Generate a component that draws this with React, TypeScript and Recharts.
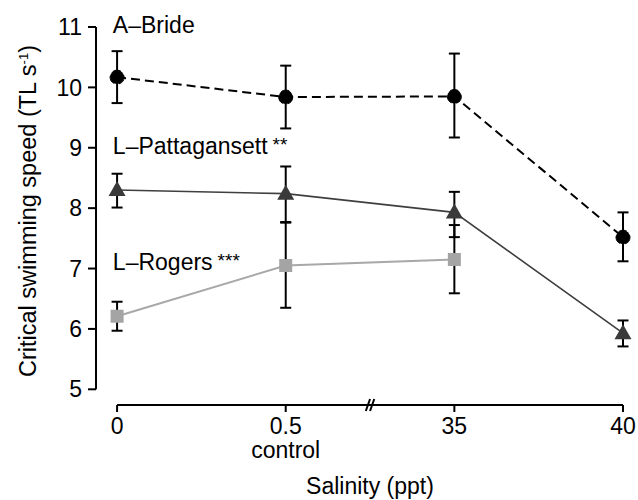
import React from 'react';
import {
  LineChart,
  Line,
  XAxis,
  YAxis,
  ErrorBar,
  ReferenceLine,
  ReferenceDot,
} from 'recharts';

// salinity groups (categorical, drawn at equal spacing with an axis break)
const tickLabels = ['0', '0.5', '35', '40'];
const tickSubLabels = ['', 'control', '', ''];

// A-Bride (mean, lower / upper error bar ends)
const bride = [10.17, 9.84, 9.85, 7.52];
const brideLow = [9.74, 9.32, 9.17, 7.12];
const brideHigh = [10.6, 10.36, 10.56, 7.93];

// L-Pattagansett
const patt = [8.3, 8.24, 7.93, 5.93];
const pattLow = [8.01, 7.77, 7.52, 5.71];
const pattHigh = [8.57, 8.69, 8.27, 6.14];

// L-Rogers (no 40 ppt group)
const rogers = [6.21, 7.05, 7.15, null];
const rogersLow = [5.97, 6.35, 6.59, null];
const rogersHigh = [6.45, 7.76, 7.72, null];

const seriesNames = ['A\u2013Bride', 'L\u2013Pattagansett', 'L\u2013Rogers'];
const seriesSig = ['', '**', '***'];
const nameAnchorY = [11.0, 9.0, 7.08];

const yTicks = [5, 6, 7, 8, 9, 10, 11];

const FONT = '"Liberation Sans", Arial, Helvetica, sans-serif';
const FS = 23;
const Y_MIN = 4.74;
const X_MIN = -0.125;

const err = (v: number | null, lo: number | null, hi: number | null) =>
  v == null || lo == null || hi == null ? undefined : [v - lo, hi - v];

const data = tickLabels.map((_, i) => ({
  idx: i,
  bride: bride[i],
  brideErr: err(bride[i], brideLow[i], brideHigh[i]),
  patt: patt[i],
  pattErr: err(patt[i], pattLow[i], pattHigh[i]),
  rogers: rogers[i],
  rogersErr: err(rogers[i], rogersLow[i], rogersHigh[i]),
}));

const XTick = ({ x, y, payload }: any) => {
  const i = payload.value as number;
  return (
    <g>
      <text x={x} y={y} dy={20} textAnchor="middle" fontSize={FS} fontFamily={FONT} fill="#000">
        {tickLabels[i]}
      </text>
      {tickSubLabels[i] && (
        <text x={x} y={y} dy={44} textAnchor="middle" fontSize={FS} fontFamily={FONT} fill="#000">
          {tickSubLabels[i]}
        </text>
      )}
    </g>
  );
};

const TriangleDot = ({ cx, cy, index }: any) => {
  if (cx == null || cy == null) return <g key={`t${index}`} />;
  return (
    <polygon
      key={`t${index}`}
      points={`${cx},${cy - 9} ${cx - 8.5},${cy + 6} ${cx + 8.5},${cy + 6}`}
      fill="#3a3a3a"
    />
  );
};

const SquareDot = ({ cx, cy, index }: any) => {
  if (cx == null || cy == null) return <g key={`s${index}`} />;
  return <rect key={`s${index}`} x={cx - 6.5} y={cy - 6.5} width={13} height={13} fill="#a4a4a4" />;
};

const nameLabel = (i: number) => (props: any) => {
  const { viewBox } = props;
  return (
    <text x={viewBox.x} y={viewBox.y} dy={6} fontSize={FS} fontFamily={FONT} fill="#000">
      {seriesNames[i]}
      {seriesSig[i] && (
        <tspan dx={5} dy={-3} fontSize={19}>
          {seriesSig[i]}
        </tspan>
      )}
    </text>
  );
};

const YTitle = () => (
  <text
    x={36}
    y={211}
    transform="rotate(-90 36 211)"
    textAnchor="middle"
    fontSize={23.5}
    fontFamily={FONT}
    fill="#000"
  >
    Critical swimming speed (TL s
    <tspan dy={-8} fontSize={13}>
      -1
    </tspan>
    <tspan dy={8}>)</tspan>
  </text>
);

const XTitle = () => (
  <text x={370} y={494} textAnchor="middle" fontSize={FS} fontFamily={FONT} fill="#000">
    Salinity (ppt)
  </text>
);

const App: React.FC = () => {
  return (
    <div style={{ position: 'absolute', left: 0, top: 0, width: 638, height: 500, background: '#fff' }}>
      <LineChart width={638} height={500} data={data} margin={{ top: 27, right: 15, bottom: 5, left: 0 }}>
        <XAxis
          type="number"
          dataKey="idx"
          domain={[X_MIN, 3]}
          ticks={[0, 1, 2, 3]}
          axisLine={false}
          tickLine={{ stroke: '#000', strokeWidth: 2 }}
          tickSize={7}
          tick={<XTick />}
          height={90}
          label={{ content: <XTitle /> }}
        />
        <YAxis
          type="number"
          domain={[Y_MIN, 11]}
          ticks={yTicks}
          axisLine={false}
          tickLine={{ stroke: '#000', strokeWidth: 2 }}
          tickSize={8}
          tickMargin={6}
          width={96}
          tick={{ fill: '#000', fontSize: FS, fontFamily: FONT }}
          label={{ content: <YTitle /> }}
        />

        {/* axis lines drawn separately so they stop at the end ticks */}
        <ReferenceLine
          segment={[{ x: X_MIN, y: 5 }, { x: X_MIN, y: 11 }]}
          stroke="#000"
          strokeWidth={2}
          ifOverflow="visible"
        />
        <ReferenceLine
          segment={[{ x: 0, y: Y_MIN }, { x: 3, y: Y_MIN }]}
          stroke="#000"
          strokeWidth={2}
          ifOverflow="visible"
        />
        {/* axis break marks */}
        <ReferenceLine
          segment={[{ x: 1.475, y: Y_MIN - 0.1 }, { x: 1.5, y: Y_MIN + 0.1 }]}
          stroke="#000"
          strokeWidth={2}
          ifOverflow="visible"
        />
        <ReferenceLine
          segment={[{ x: 1.5, y: Y_MIN - 0.1 }, { x: 1.525, y: Y_MIN + 0.1 }]}
          stroke="#000"
          strokeWidth={2}
          ifOverflow="visible"
        />

        <Line
          dataKey="rogers"
          stroke="#a8a8a8"
          strokeWidth={2}
          dot={<SquareDot />}
          activeDot={false}
          isAnimationActive={false}
        >
          <ErrorBar dataKey="rogersErr" direction="y" width={5.5} stroke="#000" strokeWidth={2} />
        </Line>
        <Line
          dataKey="patt"
          stroke="#3f3f3f"
          strokeWidth={1.6}
          dot={<TriangleDot />}
          activeDot={false}
          isAnimationActive={false}
        >
          <ErrorBar dataKey="pattErr" direction="y" width={5.5} stroke="#000" strokeWidth={2} />
        </Line>
        <Line
          dataKey="bride"
          stroke="#000"
          strokeWidth={2}
          strokeDasharray="9 5"
          dot={{ r: 7, fill: '#000', stroke: '#000', strokeWidth: 1 }}
          activeDot={false}
          isAnimationActive={false}
        >
          <ErrorBar dataKey="brideErr" direction="y" width={5.5} stroke="#000" strokeWidth={2} />
        </Line>

        {seriesNames.map((n, i) => (
          <ReferenceDot
            key={n}
            x={-0.025}
            y={nameAnchorY[i]}
            r={0}
            stroke="none"
            fill="none"
            label={{ content: nameLabel(i) }}
          />
        ))}
      </LineChart>
    </div>
  );
};

export default App;
